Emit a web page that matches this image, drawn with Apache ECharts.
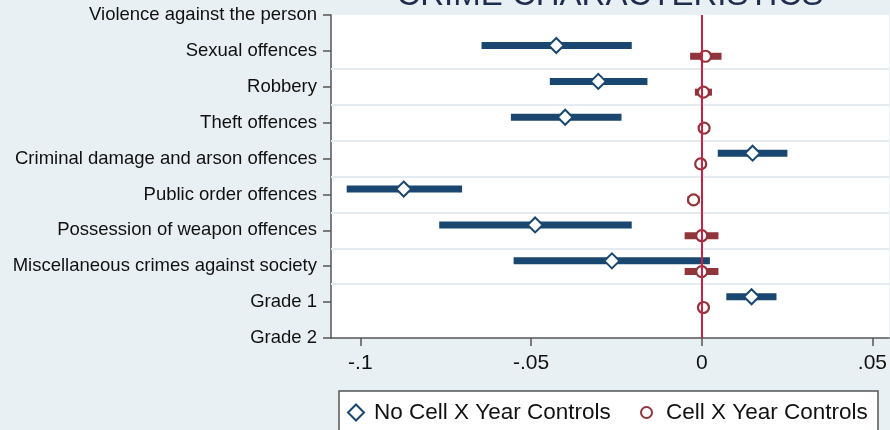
<!DOCTYPE html>
<html><head><meta charset="utf-8">
<script src="https://cdn.jsdelivr.net/npm/echarts@6/dist/echarts.min.js"></script>
<style>html,body{margin:0;padding:0;background:#e9f0f3;}#c{width:890px;height:430px;}</style>
</head><body><div id="c"></div>
<script>
// ---- data ----
const categories = [
  'Violence against the person',
  'Sexual offences',
  'Robbery',
  'Theft offences',
  'Criminal damage and arson offences',
  'Public order offences',
  'Possession of weapon offences',
  'Miscellaneous crimes against society',
  'Grade 1',
  'Grade 2'
];
const xTickValues = [-0.1, -0.05, 0, 0.05];
const xTickLabels = ['-.1', '-.05', '0', '.05'];
const seriesNames = ['No Cell X Year Controls', 'Cell X Year Controls'];
// No Cell X Year Controls
const noCtrlCoef = [null, -0.0426, -0.0303, -0.0400, 0.0149, -0.0873, -0.0488, -0.0263, 0.0146, null];
const noCtrlLow  = [null, -0.0645, -0.0445, -0.0559, 0.0047, -0.1040, -0.0769, -0.0551, 0.0072, null];
const noCtrlHigh = [null, -0.0205, -0.0159, -0.0235, 0.0251, -0.0702, -0.0205, 0.0024, 0.0219, null];
// Cell X Year Controls
const ctrlCoef = [null, 0.0011, 0.0005, 0.0007, -0.0003, -0.0024, 0.0000, 0.0000, 0.0005, null];
const ctrlLow  = [null, -0.0034, -0.0020, -0.0008, -0.0015, -0.0042, -0.0050, -0.0050, -0.0008, null];
const ctrlHigh = [null, 0.0058, 0.0030, 0.0022, 0.0009, -0.0006, 0.0049, 0.0049, 0.0018, null];

// ---- chart ----
const FONT = "'Liberation Sans', Arial, Helvetica, sans-serif";
const NAVY = '#1a476f', MAROON = '#90353b', ZERO = '#cc1f45', AXIS = '#555555', GRID = '#e4ecf0';
const OFF = 0.15;
function pts(coef, off) {
  const out = [];
  coef.forEach((v, i) => { if (v != null) out.push([v, i + off]); });
  return out;
}
function bars(lo, hi, off) {
  const out = [];
  lo.forEach((v, i) => { if (v != null) out.push([v, hi[i], i + off]); });
  return out;
}
function barSeries(name, data, color) {
  return {
    type: 'custom', name: name, z: 2, silent: true,
    encode: { x: [0, 1], y: 2 },
    data: data,
    renderItem: function (params, api) {
      const a = api.coord([api.value(0), api.value(2)]);
      const b = api.coord([api.value(1), api.value(2)]);
      return { type: 'line', shape: { x1: a[0], y1: a[1], x2: b[0], y2: b[1] },
        style: { stroke: color, lineWidth: 7, lineCap: 'butt' } };
    }
  };
}
const gridLines = [];
for (let i = 1; i < categories.length - 2; i++) gridLines.push({ yAxis: i + 0.5, lineStyle: { color: GRID, width: 2, type: 'solid' } });

const chart = echarts.init(document.getElementById('c'), null, { renderer: 'canvas' });
chart.setOption({
  animation: false,
  backgroundColor: '#e9f0f3',
  textStyle: { fontFamily: FONT },
  graphic: [
    { type: 'text', x: 610, y: 12, z: 10, silent: true,
      style: { text: 'CRIME CHARACTERISTICS', fontSize: 33, fontFamily: FONT, fill: '#1e2c4d',
        textAlign: 'center', textVerticalAlign: 'bottom' } },
    { type: 'rect', z: 0, silent: true,
      shape: { x: 339, y: 391, width: 539, height: 60 },
      style: { fill: '#ffffff', stroke: '#555555', lineWidth: 1.5 } }
  ],
  grid: { left: 331, right: 0, top: 15, bottom: 92, show: true, backgroundColor: '#ffffff', borderWidth: 0 },
  xAxis: {
    type: 'value', min: -0.1086, max: 0.0549,
    axisLine: { show: true, onZero: false, lineStyle: { color: AXIS, width: 1.5 } },
    axisTick: { show: true, length: 8, customValues: xTickValues, lineStyle: { color: AXIS, width: 1.5 } },
    axisLabel: { customValues: xTickValues, fontSize: 21, color: '#111', margin: 15, fontFamily: FONT,
      formatter: function (v) { const k = xTickValues.findIndex(t => Math.abs(t - v) < 1e-9); return k >= 0 ? xTickLabels[k] : ''; } },
    splitLine: { show: false }
  },
  yAxis: {
    type: 'value', min: 0, max: categories.length - 1, interval: 1, inverse: true,
    axisLine: { show: true, onZero: false, lineStyle: { color: AXIS, width: 1.5 } },
    axisTick: { show: true, length: 8, lineStyle: { color: AXIS, width: 1.5 } },
    axisLabel: { fontSize: 18.5, color: '#111', margin: 14, fontFamily: FONT,
      formatter: function (v) { return categories[Math.round(v)] || ''; } },
    splitLine: { show: false }
  },
  legend: [
    { data: [{ name: seriesNames[0], icon: 'diamond' }], left: 347, top: 401, padding: 0,
      itemWidth: 16, itemHeight: 16, z: 5, selectedMode: false,
      textStyle: { fontSize: 22.5, color: '#111', fontFamily: FONT, padding: [0, 0, 0, 5] } },
    { data: [{ name: seriesNames[1], icon: 'circle' }], left: 640, top: 401, padding: 0,
      itemWidth: 11, itemHeight: 11, z: 5, selectedMode: false,
      textStyle: { fontSize: 22.5, color: '#111', fontFamily: FONT, padding: [0, 0, 0, 9] } }
  ],
  series: [
    { type: 'line', name: 'reference', data: [], z: 1, silent: true,
      markLine: { silent: true, symbol: 'none', label: { show: false },
        data: gridLines.concat([{ xAxis: 0, lineStyle: { color: ZERO, width: 2, type: 'solid' } }]) } },
    barSeries('bars-no', bars(noCtrlLow, noCtrlHigh, -OFF), NAVY),
    barSeries('bars-ctrl', bars(ctrlLow, ctrlHigh, OFF), MAROON),
    { type: 'scatter', name: seriesNames[0], z: 3, symbol: 'diamond', symbolSize: 15,
      itemStyle: { color: '#ffffff', borderColor: NAVY, borderWidth: 2, opacity: 1 },
      data: pts(noCtrlCoef, -OFF) },
    { type: 'scatter', name: seriesNames[1], z: 3, symbol: 'circle', symbolSize: 11,
      itemStyle: { color: '#ffffff', borderColor: MAROON, borderWidth: 2.2, opacity: 1 },
      data: pts(ctrlCoef, OFF) }
  ]
});
</script></body></html>
